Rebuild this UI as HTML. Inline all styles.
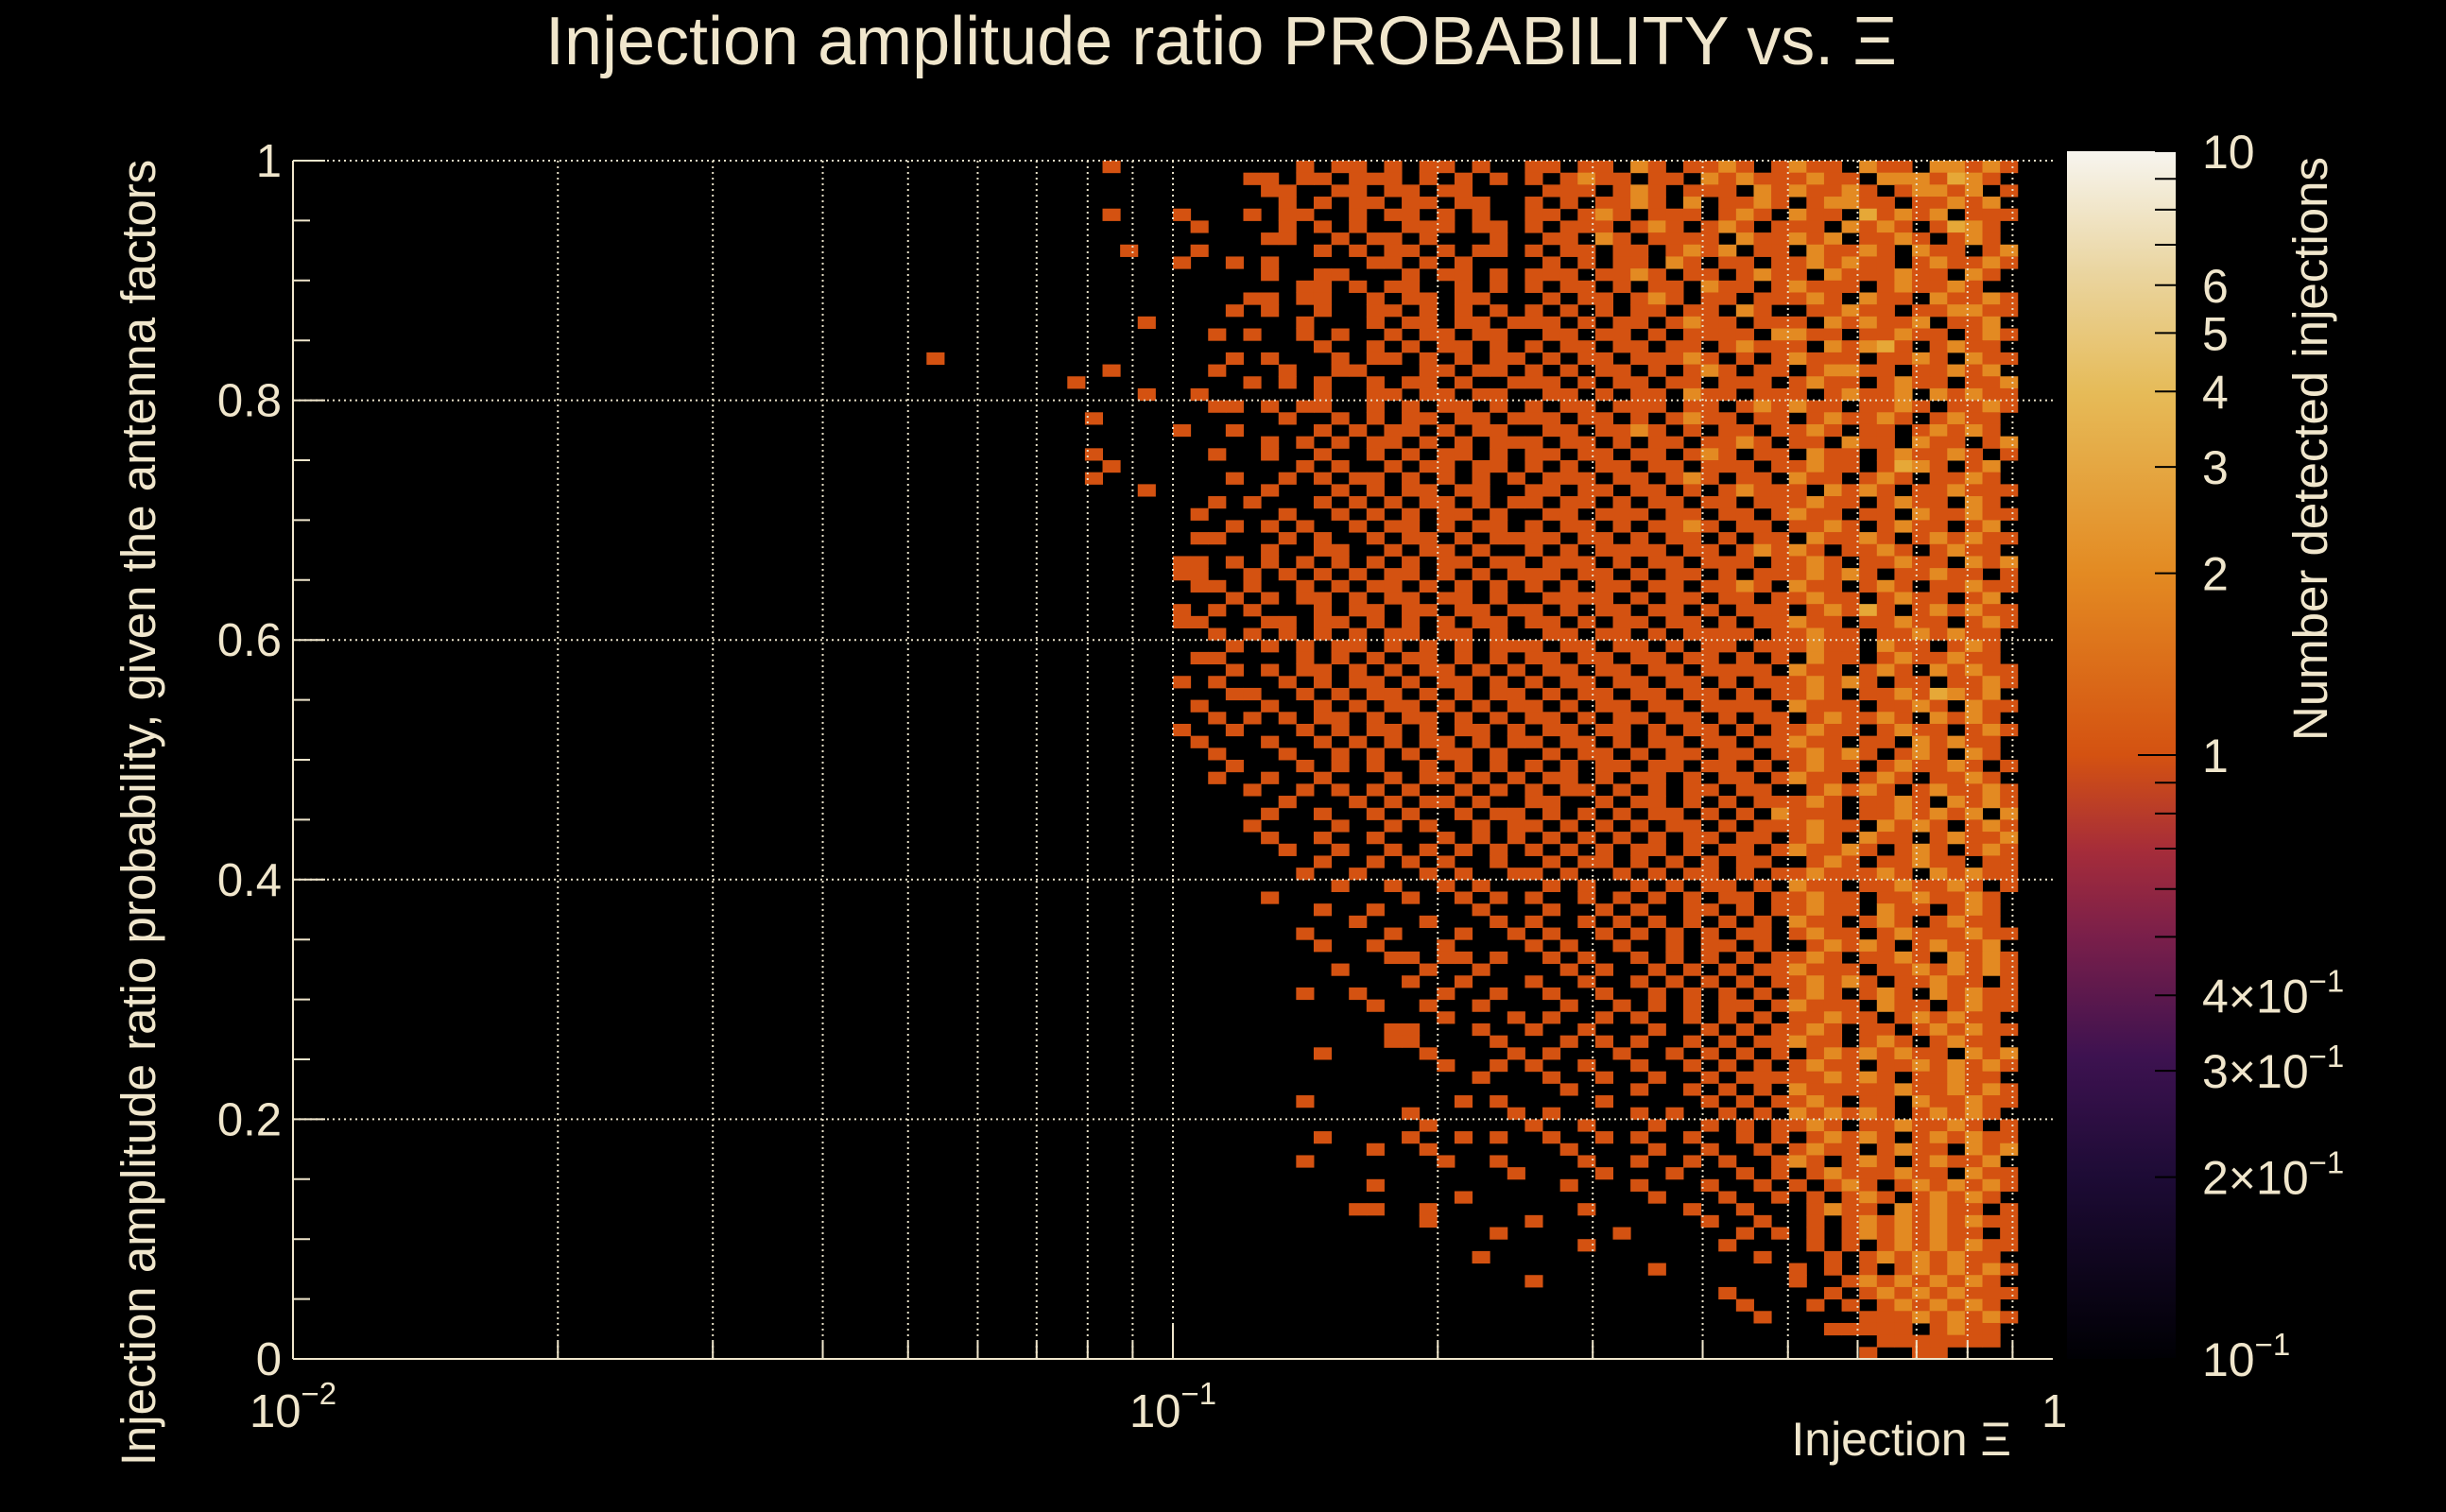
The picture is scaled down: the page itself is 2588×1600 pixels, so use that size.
<!DOCTYPE html>
<html><head><meta charset="utf-8"><style>
body{margin:0;background:#000;}
svg{display:block;font-family:"Liberation Sans",sans-serif;}
</style></head><body>
<svg id="c" width="2588" height="1600" viewBox="0 0 2588 1600">
<rect width="2588" height="1600" fill="#000"/>
<defs>
<linearGradient id="cb" x1="0" y1="1" x2="0" y2="0">
<stop offset="0" stop-color="#000004"/>
<stop offset="0.15" stop-color="#1d0b35"/>
<stop offset="0.25" stop-color="#3d1250"/>
<stop offset="0.35" stop-color="#7a1f4a"/>
<stop offset="0.42" stop-color="#a52c3a"/>
<stop offset="0.5" stop-color="#d45211"/>
<stop offset="0.65" stop-color="#e38a22"/>
<stop offset="0.8" stop-color="#e6bb58"/>
<stop offset="0.9" stop-color="#ead5a0"/>
<stop offset="1" stop-color="#f7f5ef"/>
</linearGradient>
</defs>
<g id="cells"></g>
<g id="grid"></g>
<g id="axes"></g>
<rect x="2187" y="160" width="115" height="1278" fill="url(#cb)"/>
<g id="cbax"></g>
<text x="1292" y="68" font-size="72" fill="#f0e6cc" text-anchor="middle">Injection amplitude ratio PROBABILITY vs.  Ξ</text>
<text transform="translate(164,860) rotate(-90)" font-size="51" fill="#f0e6cc" text-anchor="middle">Injection amplitude ratio probability, given the antenna factors</text>
<text x="2128" y="1540" font-size="50" fill="#f0e6cc" text-anchor="end">Injection Ξ</text>
<text transform="translate(2462,475) rotate(-90)" font-size="51" fill="#f0e6cc" text-anchor="middle">Number detected injections</text>
</svg>
<script>
const colStart = 34;
const nCols = 64;
const rows = [
"0000000000001000000000010110101101001101102101121012110211022121003",
"0000000000000000000011011011101010101012110110212111211022213210100",
"0000000000000000000001100110110110000111012101110212112101221201100",
"0000000000000000000000101011011011001010112102011210122110112120010",
"0000000000001000100010110010110101001101210111012102110312120111010",
"0000000000000000010000101010011101101011101210121011102121013210100",
"0000000000000000000001100101101000100110210111102112120112101210110",
"0000000000000100010000001010110101101011011012120110211210211012100",
"0000000000000000100101000001101010000101011021011011212110121121010",
"0000000000000000000001001100010110101110112101101211021112110210110",
"0000000000000000000000011010110010101011010110211012111012112100110",
"0000000000000000000011011001011011000101101210110111210211021121010",
"0000000000000000000101001001101010101010101101102100112110112211100",
"0000000000000010000000010001011011011101011012110111021211201120110",
"0000000000000000001010010100101101100110110101111022110112110121010",
"0000000000000000000000001001010110101011011011012111021231012110100",
"0010000000000000000101000101101010110101101112101012111011210211010",
"0000000000001000001000100110001101101010110101210110122110112120110",
"0000000000100000000010101001011010011101011011011101211012110112100",
"0000000000000010010000001001101101100110101102110111012112021211010",
"0000000000000000001101011001010110101011011101101212110112101121010",
"0000000000010000000000100101011011011101101012110110121121012110110",
"0000000000000000100100001010110101100110112101011011210110121210100",
"0000000000000000000001010101101010111011010110112101102110211012110",
"0000000000010000001001001001010110101101101101210110211012112101010",
"0000000000001000000000010100101101101010110110111011211013210120110",
"0000000000010000000100101011010101010111011012101102110121011210110",
"0000000000000010000001000101011011001101101101012111021210112111010",
"0000000000000000001010001010101101011011010110110111211012110210110",
"0000000000000000010000100101010110100110111011011012110110211211010",
"0000000000000000000101010010110101101011010112101101121012110120110",
"0000000000000000011000101001011010111101101011010110211210121211010",
"0000000000000000000001001100101101001010111101101212101121012110110",
"0000000000000000110101010101010110110111010110111011210112110212100",
"0000000000000000110010101010110101011101101011010111212101121101100",
"0000000000000000011010010101101010101010110110112102110121011211010",
"0000000000000000000101011010110110100111101011011011211012110120110",
"0000000000000000101010001011011011011010110110101110121310121211010",
"0000000000000000110001101101010101101101011011010112110112110121100",
"0000000000000000001010101010110110100110110101111011211011212110110",
"0000000000000000000101010110101010111011011010110111211021101210100",
"0000000000000000011000010101011010101101101101101010211012112110110",
"0000000000000000000101011010101101010110110110111102110121021211010",
"0000000000000000101000101011010110101011011011010111212101101121000",
"0000000000000000000110010101101010110101101101101011210112132120110",
"0000000000000000010001001010110101011010110110111102111011210211010",
"0000000000000000001010101101011010101101011011010110121121021210110",
"0000000000000000100100010101101011010110110101101011211012110121100",
"0000000000000000010001001010101101011011010110110112110110212110110",
"0000000000000000001000100101010110100101101011011011212101210210100",
"0000000000000000000100010101001010101010110110110101211012112101110",
"0000000000000000001001001000101101010110101101011012110121011210110",
"0000000000000000000010010101010010101011010101101100121210121121010",
"0000000000000000000000100010101101001100101101010111210112102121100",
"0000000000000000000001001001010010110101010110101021110112121202110",
"0000000000000000000010000100101001011010101011010111211021210121000",
"0000000000000000000001001001000101010101010101101101210211012112110",
"0000000000000000000000100100101010101010101101011012112101210121010",
"0000000000000000000000001001010100100101101010101100121011211011010",
"0000000000000000000000010010001010011010010101101011211121021211010",
"0000000000000000000000000100100101000101001010110102110112112101100",
"0000000000000000000001000000010010101001010101011011211011211210110",
"0000000000000000000000001001000001000100101001101011211021101210100",
"0000000000000000000000000010001000101001010101010102110121012110110",
"0000000000000000000000010000100010010100101010101101211012111211010",
"0000000000000000000000001001000100001010010010110100121210121120110",
"0000000000000000000000000000110110100101001010101011210112102121000",
"0000000000000000000000000100001001000010100101010112111011212121010",
"0000000000000000000000000000010010001001001010101011212101121101100",
"0000000000000000000000010010000100100100100101010101210121021211010",
"0000000000000000000000000001001001000010010101011012111021101211000",
"0000000000000000000000000000000100010100101001010101121101212110110",
"0000000000000000000000000000110001001001000100101011210110121211010",
"0000000000000000000000000000110000100010101001010112110121012110110",
"0000000000000000000000001000001000010100010010101010121212110212100",
"0000000000000000000000000000000100101001001001010101211011212121010",
"0000000000000000000000000000000001000100100100101111121210112110110",
"0000000000000000000000000000000000000010001001010102111112112121100",
"0000000000000000000000010000000010100000100000101011210110211211010",
"0000000000000000000000000000010000010100001010010102121210121210110",
"0000000000000000000000000000001000001001000100101011210112112101100",
"0000000000000000000000001000010010100100101001001010121210121211010",
"0000000000000000000000000001001000000010000100100101211012110212100",
"0000000000000000000000010000000100100001001001010012101210121120110",
"0000000000000000000000000000000000010000100010001010121112110211010",
"0000000000000000000000000001000000000010001000100101012101212121100",
"0000000000000000000000000000000010000000000100010010101210121210110",
"0000000000000000000000000011001000000001000001001000121102121101000",
"0000000000000000000000000000001000001000000000100100101212121211010",
"0000000000000000000000000000000000100000010000001010101212121101000",
"0000000000000000000000000000000000000001000000010000101012121211000",
"0000000000000000000000000000000001000000000000000100010121212110100",
"0000000000000000000000000000000000000000000100000001010101212121000",
"0000000000000000000000000000000000001000000000000001001212121210000",
"0000000000000000000000000000000000000000000000010000010121212111000",
"0000000000000000000000000000000000000000000000001000101012121210000",
"0000000000000000000000000000000000000000000000000100000111212121000",
"0000000000000000000000000000000000000000000000000000011111012110000",
"0000000000000000000000000000000000000000000000000000000011111110000",
"0000000000000000000000000000000000000000000000000000000100110000000"
];
const yTicks = [0, 0.2, 0.4, 0.6, 0.8, 1];
const yTickLabels = ["0", "0.2", "0.4", "0.6", "0.8", "1"];
const cbTicks = [10, 6, 5, 4, 3, 2, 1, 0.4, 0.3, 0.2, 0.1];
const cbTickLabels = ["10", "6", "5", "4", "3", "2", "1", "4×10", "3×10", "2×10", "10"];
const cbTickSup = ["", "", "", "", "", "", "", "−1", "−1", "−1", "−1"];

const NS = "http://www.w3.org/2000/svg";
const L = 310, R = 2172, T = 170, B = 1438;
function xs(v){ return L + (Math.log10(v) + 2) / 2 * (R - L); }
function ys(v){ return B - v * (B - T); }
function cbY(v){ return B - (Math.log10(v) + 1) / 2 * (B - 160); }
function mk(tag, attrs, parent){ const e = document.createElementNS(NS, tag); for (const k in attrs) e.setAttribute(k, attrs[k]); parent.appendChild(e); return e; }
const colors = {1:"#d45211", 2:"#e38a22", 3:"#e6a837", 4:"#e6bf5e", 5:"#e8cb7a", 6:"#ead6a0"};

const cells = document.getElementById('cells');
rows.forEach((row, j) => {
  const yTop = 1 - j / 100, yBot = 1 - (j + 1) / 100;
  for (let k = 0; k < Math.min(row.length, nCols); k++) {
    const v = +row[k];
    if (!v) continue;
    const i = colStart + k;
    const x0 = xs(Math.pow(10, -2 + i / 50)), x1 = xs(Math.pow(10, -2 + (i + 1) / 50));
    const r = mk('rect', {x: x0, y: ys(yTop), width: x1 - x0 + 0.5, height: ys(yBot) - ys(yTop) + 0.5, fill: colors[Math.min(v, 6)]}, cells);
    
    
  }
});

const grid = document.getElementById('grid');
for (let d = -2; d < 0; d++) for (let m = 1; m <= 9; m++) {
  const v = m * Math.pow(10, d);
  if (v <= 0.01) continue;
  const x = xs(v);
  const g = mk('line', {x1: x, x2: x, y1: T, y2: B, stroke: "#e8e0c8", 'stroke-width': 2, 'stroke-dasharray': "2 4"}, grid);
  
  
}
yTicks.forEach(v => {
  if (v === 0) return;
  const g = mk('line', {x1: L, x2: R, y1: ys(v), y2: ys(v), stroke: "#e8e0c8", 'stroke-width': 2, 'stroke-dasharray': "2 4"}, grid);
  
  
});

const ax = document.getElementById('axes');
mk('line', {x1: L, x2: L, y1: T, y2: B, stroke: "#f0e6cc", 'stroke-width': 2}, ax);
mk('line', {x1: L, x2: R, y1: B, y2: B, stroke: "#f0e6cc", 'stroke-width': 2}, ax);
for (let k = 0; k <= 20; k++) {
  const y = ys(k / 20);
  mk('line', {x1: L, x2: L + (k % 4 === 0 ? 34 : 18), y1: y, y2: y, stroke: "#f0e6cc", 'stroke-width': 2}, ax);
}
yTicks.forEach((v, i) => {
  const t = mk('text', {x: 298, y: ys(v) + 17, 'font-size': 49, fill: "#f0e6cc", 'text-anchor': "end"}, ax);
  t.textContent = yTickLabels[i];
  
  
});
for (let d = -2; d < 0; d++) for (let m = 1; m <= 9; m++) {
  const x = xs(m * Math.pow(10, d));
  mk('line', {x1: x, x2: x, y1: B, y2: B - (m === 1 ? 36 : 18), stroke: "#f0e6cc", 'stroke-width': 2}, ax);
}
[[0.01, "−2"], [0.1, "−1"]].forEach(([v, s]) => {
  const t = mk('text', {x: xs(v) - 46, y: 1510, 'font-size': 49, fill: "#f0e6cc"}, ax);
  t.textContent = "10";
  const ts = mk('tspan', {dy: -24, 'font-size': 33}, t);
  ts.textContent = s;
  
  
});
const one = mk('text', {x: xs(1) - 12, y: 1510, 'font-size': 49, fill: "#f0e6cc"}, ax);
one.textContent = "1";



const cbax = document.getElementById('cbax');
const cbMinor = [0.1,0.2,0.3,0.4,0.5,0.6,0.7,0.8,0.9,1,2,3,4,5,6,7,8,9,10];
cbMinor.forEach(v => {
  const y = cbY(v);
  mk('line', {x1: 2302, x2: v === 1 ? 2262 : 2280, y1: y, y2: y, stroke: "#000", 'stroke-width': 2}, cbax);
});
cbTicks.forEach((v, i) => {
  const t = mk('text', {x: 2330, y: cbY(v) + 18, 'font-size': 50, fill: "#f0e6cc"}, cbax);
  t.textContent = cbTickLabels[i];
  if (cbTickSup[i]) { const s = mk('tspan', {dy: -22, 'font-size': 33}, t); s.textContent = cbTickSup[i]; }
  
  
});
</script>
</body></html>
